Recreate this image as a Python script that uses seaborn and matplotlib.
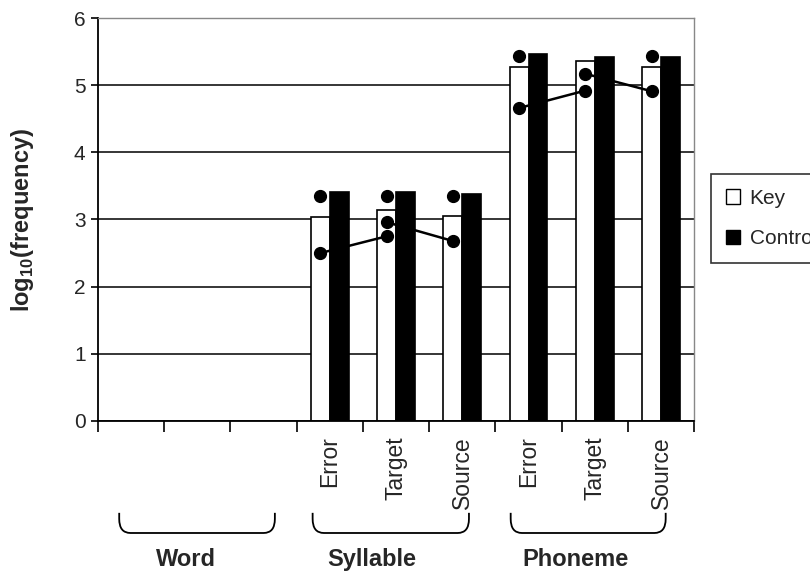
import numpy as np
import pandas as pd
import seaborn as sns
import matplotlib.pyplot as plt
from matplotlib.patches import Patch, PathPatch
from matplotlib.path import Path
import matplotlib.transforms as mtransforms

# ---- data -------------------------------------------------------------
groups = ["Word", "Syllable", "Phoneme"]
levels = ["Error", "Target", "Source"]
series = ["Key", "Control"]

key_values = [np.nan, np.nan, np.nan, 3.03, 3.14, 3.05, 5.27, 5.36, 5.27]
control_values = [np.nan, np.nan, np.nan, 3.41, 3.41, 3.38, 5.47, 5.42, 5.42]

# single dots above the key bars
upper_dots = [np.nan, np.nan, np.nan, 3.35, 3.35, 3.35, 5.43, np.nan, 5.43]
# connected pairs: Error -> Target and Target -> Source
err_to_target = {"Syllable": [2.50, 2.75], "Phoneme": [4.66, 4.92]}
target_to_src = {"Syllable": [2.96, 2.68], "Phoneme": [5.17, 4.91]}

# ---- layout / style ---------------------------------------------------
sns.set_theme(style="white")
plt.rcParams["font.family"] = ["Liberation Sans", "DejaVu Sans"]
plt.rcParams["mathtext.fontset"] = "custom"
plt.rcParams["mathtext.rm"] = "Liberation Sans"

slots = [f"{g}|{lv}" for g in groups for lv in levels]
df = pd.DataFrame({
    "slot": slots * 2,
    "series": ["Key"] * len(slots) + ["Control"] * len(slots),
    "value": key_values + control_values,
})

fig = plt.figure(figsize=(8.1, 5.74), dpi=100)
ax = fig.add_axes([0.121, 0.2666, 0.736, 0.702])

bar_width = 0.57
sns.barplot(data=df, x="slot", y="value", hue="series", order=slots,
            hue_order=series, palette={"Key": "white", "Control": "black"},
            width=bar_width, gap=0, saturation=1, edgecolor="black",
            linewidth=1.2, legend=False, ax=ax)

# dots and connecting segments sit on the key bars
key_off = -bar_width / 4
xs = np.arange(len(slots)) + key_off
ax.plot(xs, upper_dots, "o", color="black", ms=8.5, zorder=5)
for gi, g in enumerate(groups[1:], start=1):
    base = gi * 3
    a = err_to_target[g]
    b = target_to_src[g]
    ax.plot(xs[[base, base + 1]], a, "-o", color="black", lw=1.8, ms=8.5, zorder=5)
    ax.plot(xs[[base + 1, base + 2]], b, "-o", color="black", lw=1.8, ms=8.5, zorder=5)

# axes
ax.set_xlim(-0.5, len(slots) - 0.5)
ax.set_ylim(0, 6)
ax.set_yticks(range(0, 7))
ax.yaxis.grid(True, color="black", lw=1.1)
ax.set_axisbelow(True)
ax.get_ygridlines()[-1].set_color("#888888")

ax.set_xticks(np.arange(-0.5, len(slots)), labels=[""] * (len(slots) + 1))
ax.tick_params(axis="x", which="major", direction="out", length=8, width=1.2,
               color="black", bottom=True)
label_pos = [i for i, s in enumerate(slots) if not s.startswith("Word")]
ax.set_xticks(label_pos, minor=True)
ax.set_xticklabels([slots[i].split("|")[1] for i in label_pos], minor=True,
                   rotation=90, fontsize=16.5, va="top", ha="center")
ax.tick_params(axis="x", which="minor", length=0, pad=11)
ax.tick_params(axis="y", direction="out", length=5, width=1.2, color="black",
               left=True, labelsize=15, pad=4)
ax.set_xlabel("")
ax.set_ylabel(r"log$_{\mathregular{10}}$(frequency)", fontsize=17,
              fontweight="bold")
ax.yaxis.set_label_coords(-0.104, 0.5)

for side in ("left", "bottom"):
    ax.spines[side].set_color("black")
    ax.spines[side].set_linewidth(1.3)
for side in ("top", "right"):
    ax.spines[side].set_color("#888888")
    ax.spines[side].set_linewidth(1.0)

# group braces and labels under the category labels
trans = mtransforms.blended_transform_factory(ax.transData, ax.transAxes)
brace_spans = [(-0.18, 2.17), (2.74, 5.10), (5.73, 8.07)]
group_label_x = [0.83, 3.63, 6.71]
rx, ry = 0.17, 0.035
y_top, y_bot = -0.228, -0.278
for g, (x0, x1), lx in zip(groups, brace_spans, group_label_x):
    verts = [(x0, y_top), (x0, y_bot + ry), (x0, y_bot), (x0 + rx, y_bot),
             (x1 - rx, y_bot), (x1, y_bot), (x1, y_bot + ry), (x1, y_top)]
    codes = [Path.MOVETO, Path.LINETO, Path.CURVE3, Path.CURVE3,
             Path.LINETO, Path.CURVE3, Path.CURVE3, Path.LINETO]
    ax.add_patch(PathPatch(Path(verts, codes), transform=trans, fill=False,
                           edgecolor="black", lw=1.3, clip_on=False))
    ax.text(lx, -0.345, g, transform=trans, ha="center", va="center",
            fontsize=17, fontweight="bold")

# legend (its right side runs past the figure edge)
handles = [Patch(facecolor="white", edgecolor="black", lw=1.0),
           Patch(facecolor="black", edgecolor="black", lw=1.0)]
leg = fig.legend(handles, series, loc="upper left",
                 bbox_to_anchor=(0.878, 0.697), frameon=True, fancybox=False,
                 edgecolor="black", fontsize=15, handlelength=0.7,
                 handleheight=0.7, handletextpad=0.45, labelspacing=1.05,
                 borderpad=0.7, borderaxespad=0)
leg.get_frame().set_linewidth(1.2)

fig.savefig("out.png", dpi=100)
